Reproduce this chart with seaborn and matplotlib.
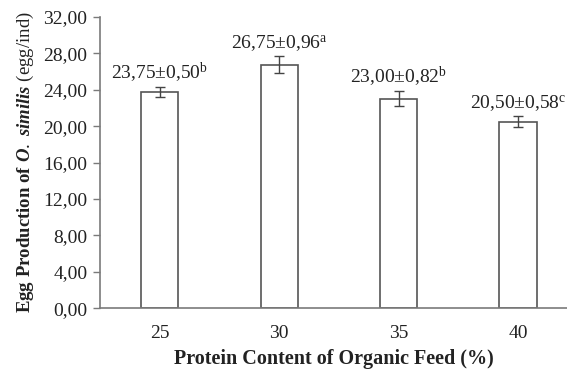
import matplotlib
matplotlib.use("Agg")
import matplotlib.pyplot as plt
import seaborn as sns
import pandas as pd

# Protein content groups and egg production (mean ± SD) with significance letters
protein = ["25", "30", "35", "40"]
egg_mean = [23.75, 26.75, 23.00, 20.50]
egg_sd = [0.50, 0.96, 0.82, 0.58]
letters = ["b", "a", "b", "c"]
yticks = [0, 4, 8, 12, 16, 20, 24, 28, 32]

sns.set_theme(style="white")
plt.rcParams["font.family"] = ["Liberation Serif", "DejaVu Serif"]
plt.rcParams["mathtext.fontset"] = "custom"
plt.rcParams["mathtext.rm"] = "Liberation Serif"
plt.rcParams["mathtext.bf"] = "Liberation Serif:bold"
plt.rcParams["mathtext.it"] = "Liberation Serif:italic:bold"
plt.rcParams["mathtext.default"] = "regular"

df = pd.DataFrame({"protein": protein, "egg": egg_mean})

fig = plt.figure(figsize=(5.67, 3.69), dpi=100)
ax = fig.add_axes([0.176, 0.165, 0.824, 0.789])

axis_col = "#7a7a7a"
sns.barplot(data=df, x="protein", y="egg", ax=ax, color="white",
            edgecolor="#555555", linewidth=1.2, width=0.31, errorbar=None)
ax.errorbar(range(len(protein)), egg_mean, yerr=egg_sd, fmt="none",
            ecolor="#444444", elinewidth=1.0, capsize=3.5, capthick=1.0)

for i, (m, s, l) in enumerate(zip(egg_mean, egg_sd, letters)):
    txt = f"{m:.2f}".replace(".", ",") + "±" + f"{s:.2f}".replace(".", ",") + f"$^{{{l}}}$"
    ax.annotate(txt, (i, m + s), xytext=(0, 1.5), textcoords="offset points",
                ha="center", va="bottom", fontsize=14, color="#222222")

ax.set_xlim(-0.5, 3.41)
ax.set_ylim(0, 32)
ax.set_yticks(yticks)
ax.set_yticklabels([f"{v:.2f}".replace(".", ",") for v in yticks])
ax.tick_params(axis="y", direction="out", length=5, width=1, color=axis_col,
               labelsize=14, labelcolor="#222222", pad=4, left=True)
ax.tick_params(axis="x", length=0, labelsize=14, labelcolor="#222222", pad=12)

for side in ["top", "right"]:
    ax.spines[side].set_visible(False)
for side in ["left", "bottom"]:
    ax.spines[side].set_color(axis_col)
    ax.spines[side].set_linewidth(1.2)

ax.set_xlabel("Protein Content of Organic Feed (%)", fontsize=14.5,
              fontweight="bold", color="#222222", labelpad=5)
ax.set_ylabel(r"$\mathbf{Egg\ Production\ of\ }\mathit{O.\ similis}\ \mathrm{(egg/ind)}$",
              fontsize=13.5, color="#222222", labelpad=5)

fig.savefig("out.png", dpi=100)
